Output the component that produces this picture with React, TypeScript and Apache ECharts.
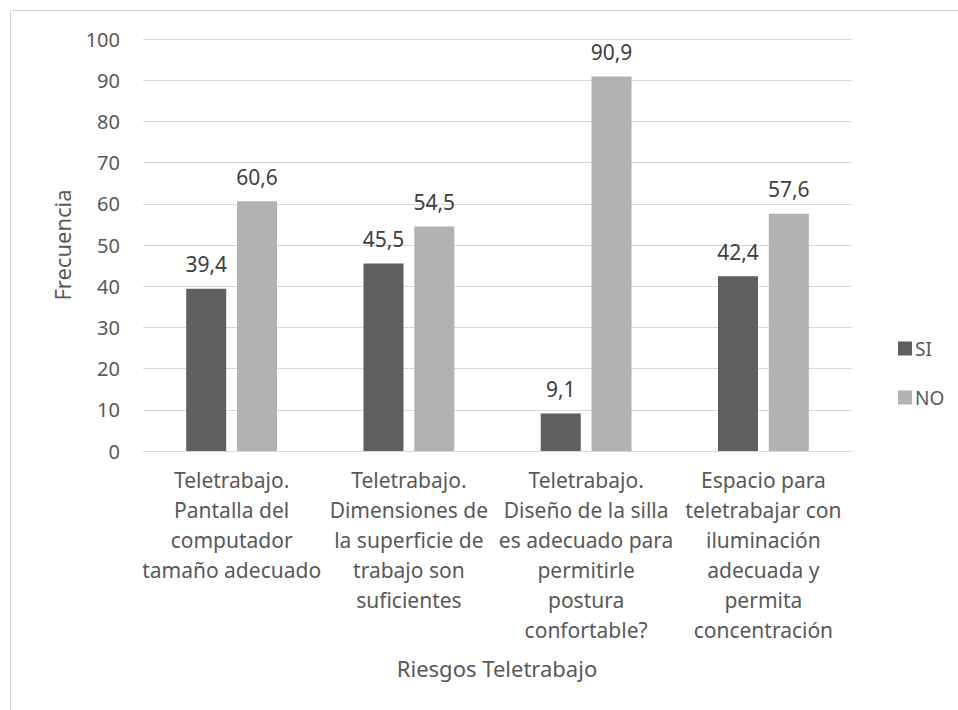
import React, { useEffect, useRef } from "react";
import * as echarts from "echarts";

const categories = [
  "Teletrabajo.\nPantalla del\ncomputador\ntamaño adecuado",
  "Teletrabajo.\nDimensiones de\nla superficie de\ntrabajo son\nsuficientes",
  "Teletrabajo.\nDiseño de la silla\nes adecuado para\npermitirle\npostura\nconfortable?",
  "Espacio para\nteletrabajar con\niluminación\nadecuada y\npermita\nconcentración",
];
const siValues = [39.4, 45.5, 9.1, 42.4];
const noValues = [60.6, 54.5, 90.9, 57.6];
const seriesNames = ["SI", "NO"];
const yAxisTitle = "Frecuencia";
const xAxisTitle = "Riesgos Teletrabajo";

const FONT = "Noto Sans";
const TEXT = "#595959";

export default function App() {
  const ref = useRef<HTMLDivElement>(null);
  useEffect(() => {
    if (!ref.current) return;
    const chart = echarts.init(ref.current, undefined, { renderer: "svg" });
    const fmt = (p: any) => String(p.value).replace(".", ",");
    chart.setOption({
      animation: false,
      backgroundColor: "#ffffff",
      textStyle: { fontFamily: FONT },
      grid: { left: 143, right: 106, top: 39, bottom: 259, containLabel: false },
      legend: {
        orient: "vertical",
        left: 893,
        top: 334,
        itemWidth: 14,
        itemHeight: 14,
        itemGap: 30,
        icon: "rect",
        data: seriesNames,
        textStyle: { color: TEXT, fontSize: 19, fontFamily: FONT, padding: [0, 0, 0, -2] },
      },
      xAxis: {
        type: "category",
        data: categories,
        axisLine: { show: true, lineStyle: { color: "#d9d9d9", width: 1 } },
        axisTick: { show: false },
        axisLabel: {
          interval: 0,
          color: TEXT,
          fontSize: 21,
          lineHeight: 30,
          fontFamily: FONT,
          margin: 14,
          align: "center",
        },
      },
      yAxis: {
        type: "value",
        min: 0,
        max: 100,
        interval: 10,
        axisLine: { show: false },
        axisTick: { show: false },
        splitLine: { lineStyle: { color: "#d9d9d9", width: 1 } },
        axisLabel: { color: TEXT, fontSize: 20, fontFamily: FONT, margin: 23 },
      },
      series: [
        {
          name: seriesNames[0],
          type: "bar",
          data: siValues,
          barWidth: 40,
          barGap: "27%",
          itemStyle: { color: "#5f5f5f" },
          label: {
            show: true,
            position: "top",
            distance: 14,
            color: "#404040",
            fontSize: 21,
            fontFamily: FONT,
            formatter: fmt,
          },
        },
        {
          name: seriesNames[1],
          type: "bar",
          data: noValues,
          barWidth: 40,
          itemStyle: { color: "#b2b2b2" },
          label: {
            show: true,
            position: "top",
            distance: 14,
            color: "#404040",
            fontSize: 21,
            fontFamily: FONT,
            formatter: fmt,
          },
        },
      ],
      graphic: [
        {
          type: "rect",
          shape: { x: 10.5, y: 10.5, width: 1000, height: 1000 },
          style: { fill: "none", stroke: "#d9d9d9", lineWidth: 1 },
          silent: true,
        },
        {
          type: "text",
          x: 62,
          y: 245,
          rotation: Math.PI / 2,
          style: {
            text: yAxisTitle,
            fill: TEXT,
            fontSize: 22,
            fontFamily: FONT,
            align: "center",
            verticalAlign: "middle",
          },
        },
        {
          type: "text",
          x: 497,
          y: 668,
          style: {
            text: xAxisTitle,
            fill: TEXT,
            fontSize: 22,
            fontFamily: FONT,
            align: "center",
            verticalAlign: "middle",
          },
        },
      ],
    });
    return () => chart.dispose();
  }, []);
  return (
    <div
      ref={ref}
      style={{ position: "absolute", left: 0, top: 0, width: 958, height: 710 }}
    />
  );
}
